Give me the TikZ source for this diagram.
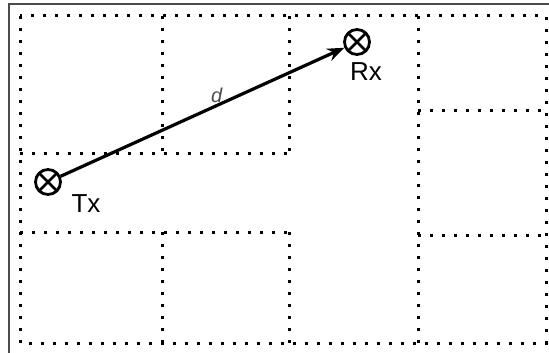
\documentclass[tikz,border=0pt]{standalone}
\usepackage{fontspec}
\setmainfont{Liberation Sans}
\usepackage{tikz}
\usetikzlibrary{shapes,arrows,arrows.meta,positioning,calc}

\begin{document}
\begin{tikzpicture}[
    x=1pt, y=-1pt,
    frame/.style={draw=black!70, line width=1.6pt},
    wall/.style={draw, line width=3pt, dash pattern=on 3pt off 9pt},
    antenna/.style={circle, draw, line width=2.8pt, minimum size=25pt, inner sep=0pt,
        path picture={\draw[line width=2.6pt] (path picture bounding box.north west) -- (path picture bounding box.south east)
            (path picture bounding box.north east) -- (path picture bounding box.south west);}},
    tag/.style={font=\fontsize{26}{28}\selectfont, inner sep=0pt},
    dist/.style={font=\fontsize{20}{22}\selectfont\itshape, text=black!70, inner sep=1pt},
    arrow/.style={-{Stealth[length=17pt, width=13pt]}, line width=3.2pt}
]
\useasboundingbox (0,0) rectangle (549,353);

% Outer frame
\begin{scope}
\clip (0,0) rectangle (549,353);
\draw[frame] (9,4) rectangle (560,365);
\end{scope}

% Room outline
\draw[wall] (20,16) rectangle (546,343);

% Rooms on the left
\draw[wall] (162,16) -- (162,153);
\draw[wall] (289,16) -- (289,153);
\draw[wall] (20,153) -- (289,153);
\draw[wall] (20,232) -- (289,232);
\draw[wall] (162,232) -- (162,343);
\draw[wall] (289,232) -- (289,343);

% Rooms on the right
\draw[wall] (418,16) -- (418,343);
\draw[wall] (418,110) -- (546,110);
\draw[wall] (418,235) -- (546,235);

% Transmitter and receiver
\node[antenna] (tx) at (48,182) {};
\node[antenna] (rx) at (357,42) {};
\node[tag] (tx-label) at (86,204) {Tx};
\node[tag] (rx-label) at (366,72) {Rx};

% Distance
\draw[arrow] (tx) -- (rx) node[dist, pos=0.55, above] (d) {d};

\end{tikzpicture}
\end{document}
